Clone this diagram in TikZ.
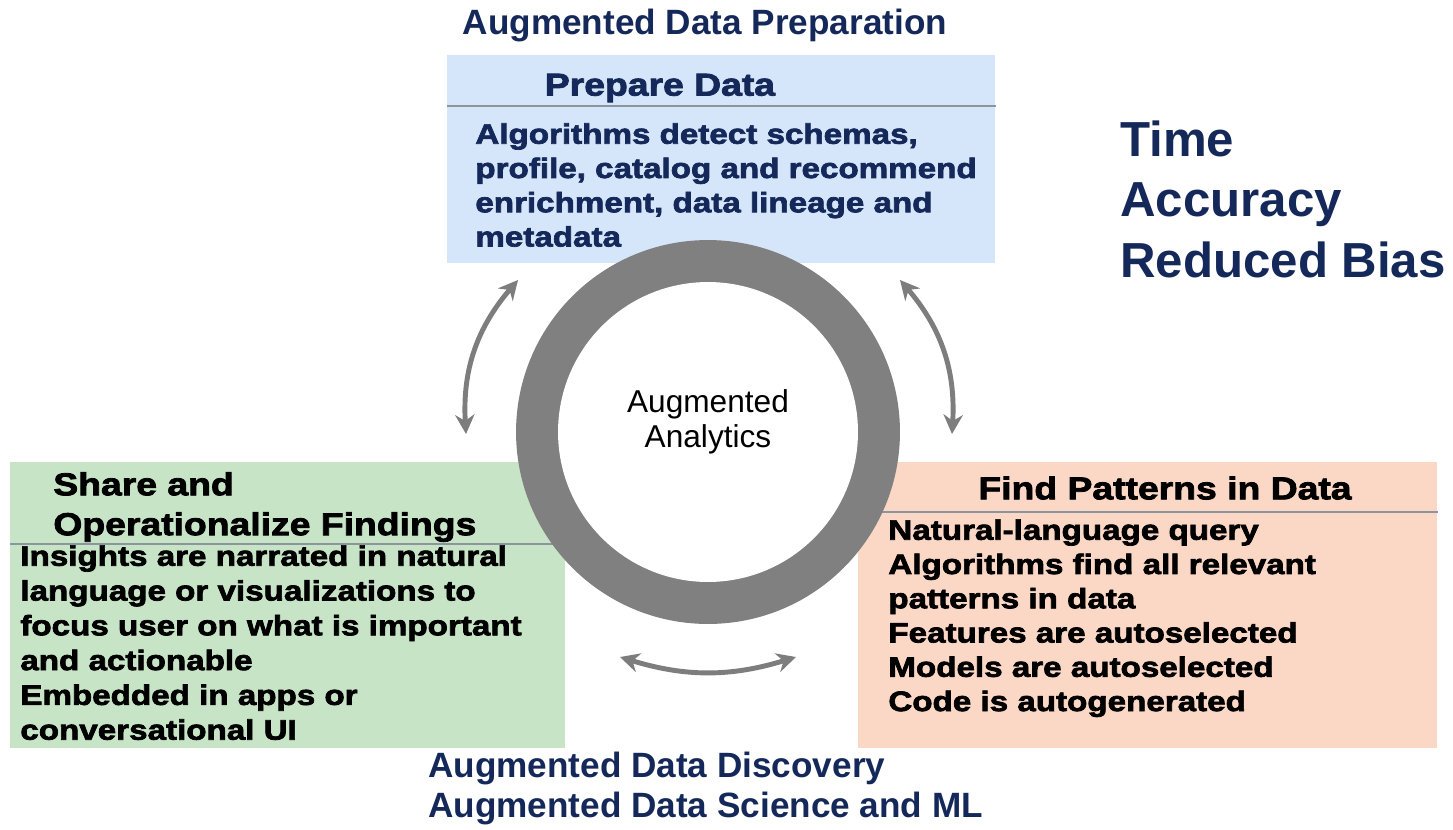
\documentclass[tikz,border=0pt]{standalone}
\usepackage{fontspec}
\setmainfont{Liberation Sans}
\newfontfamily\heavyfont{Liberation Sans Bold}[FakeBold=2.5,FakeStretch=1.18]
\usetikzlibrary{arrows.meta, positioning}

\definecolor{navy}{RGB}{20,40,90}
\definecolor{prepblue}{RGB}{214,230,250}
\definecolor{sharegreen}{RGB}{199,228,199}
\definecolor{findorange}{RGB}{251,215,197}
\definecolor{ringgray}{RGB}{128,128,128}
\definecolor{arrowgray}{RGB}{125,125,125}
\definecolor{sepgray}{RGB}{140,148,158}

\begin{document}
\begin{tikzpicture}[x=0.02cm, y=-0.02cm,
    box/.style = {rectangle, inner sep=0pt, anchor=north west, minimum height=5.72cm},
    headtext/.style = {inner sep=0pt, font=\heavyfont\fontsize{18}{22.7}\selectfont},
    bodytext/.style = {anchor=north west, inner sep=0pt, align=left, font=\heavyfont\fontsize{16}{19.5}\selectfont},
    titletext/.style = {inner sep=0pt, text=navy, align=left, font=\bfseries\fontsize{20}{22.7}\selectfont},
    sepline/.style = {draw=sepgray, line width=0.6pt},
    cyclearrow/.style = {draw=arrowgray, line width=2.8pt,
        {Stealth[length=11pt,width=11pt]}-{Stealth[length=11pt,width=11pt]}}]

    \useasboundingbox (0,0) rectangle (1453,829);
    \fill[white] (0,0) rectangle (1453,829);

    % top block
    \node[titletext] (preptitle) at (705,25) {Augmented Data Preparation};
    \node[box, fill=prepblue, minimum width=10.96cm, minimum height=4.16cm] (prep) at (447,55) {};
    \draw[sepline] (prep.west |- 0,106) -- (prep.east |- 0,106);
    \node[headtext, text=navy] (prephead) at (660,88) {Prepare Data};
    \node[bodytext, text=navy] (prepbody) at (475,123)
        {Algorithms detect schemas,\\profile, catalog and recommend\\enrichment, data lineage and\\metadata};

    \node[titletext, anchor=north west, font=\bfseries\fontsize{28}{34.6}\selectfont] (gains) at (1120,120)
        {Time\\Accuracy\\Reduced Bias};

    % left block
    \node[box, fill=sharegreen, minimum width=11.1cm] (share) at (10,462) {};
    \draw[sepline] (share.west |- 0,544) -- (share.east |- 0,544);
    \node[headtext, anchor=north west, align=left] (sharehead) at (53,472)
        {Share and\\Operationalize Findings};
    \node[bodytext, font=\heavyfont\fontsize{16}{19.8}\selectfont] (sharebody) at (20,545)
        {Insights are narrated in natural\\language or visualizations to\\focus user on what is important\\and actionable\\Embedded in apps or\\conversational UI};

    % right block
    \node[box, fill=findorange, minimum width=11.58cm] (find) at (858,462) {};
    \draw[sepline] (find.west |- 0,512) -- (find.east |- 0,512);
    \node[headtext] (findhead) at (1165,488) {Find Patterns in Data};
    \node[bodytext] (findbody) at (888,519)
        {Natural-language query\\Algorithms find all relevant\\patterns in data\\Features are autoselected\\Models are autoselected\\Code is autogenerated};

    \node[titletext, anchor=north west] (discovery) at (428,752)
        {Augmented Data Discovery\\Augmented Data Science and ML};

    % hub ring
    \coordinate (hub) at (708,432);
    \fill[ringgray] (hub) circle (3.84cm);
    \fill[white] (hub) circle (3cm);
    \node[align=center, inner sep=0pt, font=\fontsize{18}{19.8}\selectfont] (hubtext) at (708,422)
        {Augmented\\Analytics};

    % arrows between the blocks
    \coordinate (lefttop) at (518,280);
    \coordinate (leftbot) at (466,434);
    \coordinate (righttop) at (900,280);
    \coordinate (rightbot) at (952,434);
    \coordinate (botleft) at (620,657);
    \coordinate (botright) at (796,657);
    \draw[cyclearrow] (lefttop) to[bend right=22] (leftbot);
    \draw[cyclearrow] (righttop) to[bend left=22] (rightbot);
    \draw[cyclearrow] (botleft) to[bend right=17] (botright);

\end{tikzpicture}
\end{document}
